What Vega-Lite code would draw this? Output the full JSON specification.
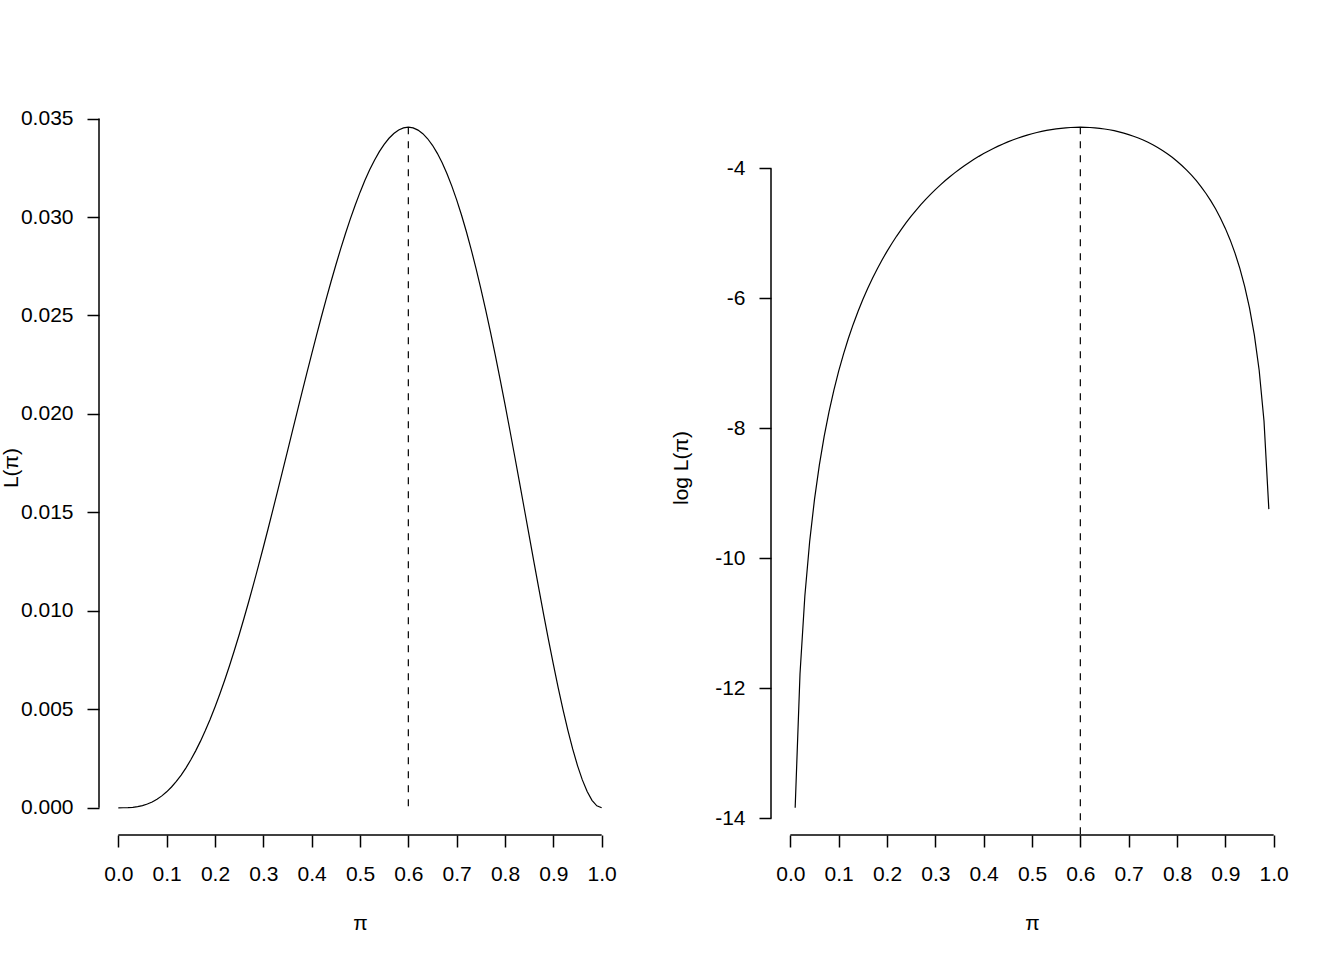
{
  "$schema": "https://vega.github.io/schema/vega-lite/v6.json",
  "background": "white",
  "padding": {"left": 0, "top": 100, "right": 0, "bottom": 0},
  "bounds": "flush",
  "spacing": 150,
  "config": {
    "view": {"stroke": null},
    "axis": {
      "grid": false, "domain": false,
      "labelFont": "Liberation Sans", "titleFont": "Liberation Sans",
      "labelFontSize": 21, "titleFontSize": 21, "titleFontWeight": "normal",
      "labelColor": "black", "titleColor": "black",
      "tickColor": "black", "tickSize": 12, "tickWidth": 1.5
    }
  },
  "datasets": {
    "lik": [
      {"p":0.00,"L":0},{"p":0.01,"L":0.00000098},{"p":0.02,"L":0.00000768},{"p":0.03,"L":0.0000254},{"p":0.04,"L":0.0000590},
      {"p":0.05,"L":0.000112813},{"p":0.06,"L":0.000190858},{"p":0.07,"L":0.000296661},{"p":0.08,"L":0.000433357},{"p":0.09,"L":0.000603685},
      {"p":0.10,"L":0.00081},{"p":0.11,"L":0.001054285},{"p":0.12,"L":0.001338163},{"p":0.13,"L":0.001662909},{"p":0.14,"L":0.002029462},
      {"p":0.15,"L":0.002438438},{"p":0.16,"L":0.002890138},{"p":0.17,"L":0.003384566},{"p":0.18,"L":0.003921437},{"p":0.19,"L":0.00450019},
      {"p":0.20,"L":0.00512},{"p":0.21,"L":0.00577979},{"p":0.22,"L":0.006478243},{"p":0.23,"L":0.007213814},{"p":0.24,"L":0.007984742},
      {"p":0.25,"L":0.008789063},{"p":0.26,"L":0.009624618},{"p":0.27,"L":0.0104891},{"p":0.28,"L":0.0113799},{"p":0.29,"L":0.0122945},
      {"p":0.30,"L":0.01323},{"p":0.31,"L":0.0141835},{"p":0.32,"L":0.0151519},{"p":0.33,"L":0.0161321},{"p":0.34,"L":0.0171208},
      {"p":0.35,"L":0.0181147},{"p":0.36,"L":0.0191103},{"p":0.37,"L":0.0201042},{"p":0.38,"L":0.0210928},{"p":0.39,"L":0.0220726},
      {"p":0.40,"L":0.02304},{"p":0.41,"L":0.0239914},{"p":0.42,"L":0.0249232},{"p":0.43,"L":0.0258318},{"p":0.44,"L":0.0267137},
      {"p":0.45,"L":0.0275653},{"p":0.46,"L":0.0283832},{"p":0.47,"L":0.0291639},{"p":0.48,"L":0.0299041},{"p":0.49,"L":0.0306005},
      {"p":0.50,"L":0.03125},{"p":0.51,"L":0.0318495},{"p":0.52,"L":0.0323961},{"p":0.53,"L":0.0328869},{"p":0.54,"L":0.0333194},
      {"p":0.55,"L":0.0336909},{"p":0.56,"L":0.0339993},{"p":0.57,"L":0.0342422},{"p":0.58,"L":0.0344178},{"p":0.59,"L":0.0345242},
      {"p":0.60,"L":0.03456},{"p":0.61,"L":0.0345238},{"p":0.62,"L":0.0344146},{"p":0.63,"L":0.0342314},{"p":0.64,"L":0.0339739},
      {"p":0.65,"L":0.0336416},{"p":0.66,"L":0.0332345},{"p":0.67,"L":0.0327531},{"p":0.68,"L":0.0321978},{"p":0.69,"L":0.0315697},
      {"p":0.70,"L":0.03087},{"p":0.71,"L":0.0301003},{"p":0.72,"L":0.0292626},{"p":0.73,"L":0.0283593},{"p":0.74,"L":0.0273931},
      {"p":0.75,"L":0.0263672},{"p":0.76,"L":0.025285},{"p":0.77,"L":0.0241506},{"p":0.78,"L":0.0229683},{"p":0.79,"L":0.021743},
      {"p":0.80,"L":0.02048},{"p":0.81,"L":0.019185},{"p":0.82,"L":0.0178643},{"p":0.83,"L":0.0165246},{"p":0.84,"L":0.0151732},
      {"p":0.85,"L":0.0138178},{"p":0.86,"L":0.0124667},{"p":0.87,"L":0.0111287},{"p":0.88,"L":0.0098132},{"p":0.89,"L":0.0085301},
      {"p":0.90,"L":0.00729},{"p":0.91,"L":0.0061039},{"p":0.92,"L":0.0049836},{"p":0.93,"L":0.0039414},{"p":0.94,"L":0.0029901},
      {"p":0.95,"L":0.0021434},{"p":0.96,"L":0.0014156},{"p":0.97,"L":0.0008214},{"p":0.98,"L":0.0003765},{"p":0.99,"L":0.000097},
      {"p":1.00,"L":0}
    ],
    "loglik": [
      {"p":0.01,"logL":-13.8356},{"p":0.02,"logL":-11.7765},{"p":0.03,"logL":-10.5806},{"p":0.04,"logL":-9.7383},
      {"p":0.05,"logL":-9.0898},{"p":0.06,"logL":-8.564},{"p":0.07,"logL":-8.1229},{"p":0.08,"logL":-7.744},{"p":0.09,"logL":-7.4125},
      {"p":0.10,"logL":-7.1185},{"p":0.11,"logL":-6.8549},{"p":0.12,"logL":-6.6164},{"p":0.13,"logL":-6.3992},{"p":0.14,"logL":-6.2},
      {"p":0.15,"logL":-6.0164},{"p":0.16,"logL":-5.8464},{"p":0.17,"logL":-5.6885},{"p":0.18,"logL":-5.5413},{"p":0.19,"logL":-5.4036},
      {"p":0.20,"logL":-5.2746},{"p":0.21,"logL":-5.1534},{"p":0.22,"logL":-5.0393},{"p":0.23,"logL":-4.9318},{"p":0.24,"logL":-4.8302},
      {"p":0.25,"logL":-4.7342},{"p":0.26,"logL":-4.6434},{"p":0.27,"logL":-4.5574},{"p":0.28,"logL":-4.4759},{"p":0.29,"logL":-4.3986},
      {"p":0.30,"logL":-4.3253},{"p":0.31,"logL":-4.2557},{"p":0.32,"logL":-4.1896},{"p":0.33,"logL":-4.1269},{"p":0.34,"logL":-4.0675},
      {"p":0.35,"logL":-4.011},{"p":0.36,"logL":-3.9575},{"p":0.37,"logL":-3.9068},{"p":0.38,"logL":-3.8588},{"p":0.39,"logL":-3.8134},
      {"p":0.40,"logL":-3.7705},{"p":0.41,"logL":-3.7301},{"p":0.42,"logL":-3.692},{"p":0.43,"logL":-3.6562},{"p":0.44,"logL":-3.6226},
      {"p":0.45,"logL":-3.5912},{"p":0.46,"logL":-3.562},{"p":0.47,"logL":-3.5348},{"p":0.48,"logL":-3.5098},{"p":0.49,"logL":-3.4868},
      {"p":0.50,"logL":-3.4658},{"p":0.51,"logL":-3.4467},{"p":0.52,"logL":-3.4297},{"p":0.53,"logL":-3.4147},{"p":0.54,"logL":-3.4016},
      {"p":0.55,"logL":-3.3905},{"p":0.56,"logL":-3.3814},{"p":0.57,"logL":-3.3743},{"p":0.58,"logL":-3.3692},{"p":0.59,"logL":-3.3661},
      {"p":0.60,"logL":-3.3651},{"p":0.61,"logL":-3.3661},{"p":0.62,"logL":-3.3692},{"p":0.63,"logL":-3.3745},{"p":0.64,"logL":-3.3819},
      {"p":0.65,"logL":-3.392},{"p":0.66,"logL":-3.4042},{"p":0.67,"logL":-3.4188},{"p":0.68,"logL":-3.4358},{"p":0.69,"logL":-3.4555},
      {"p":0.70,"logL":-3.478},{"p":0.71,"logL":-3.5032},{"p":0.72,"logL":-3.5314},{"p":0.73,"logL":-3.5628},{"p":0.74,"logL":-3.5975},
      {"p":0.75,"logL":-3.6356},{"p":0.76,"logL":-3.6776},{"p":0.77,"logL":-3.7234},{"p":0.78,"logL":-3.7736},{"p":0.79,"logL":-3.8286},
      {"p":0.80,"logL":-3.8883},{"p":0.81,"logL":-3.9536},{"p":0.82,"logL":-4.025},{"p":0.83,"logL":-4.1029},{"p":0.84,"logL":-4.1882},
      {"p":0.85,"logL":-4.2818},{"p":0.86,"logL":-4.3847},{"p":0.87,"logL":-4.4982},{"p":0.88,"logL":-4.624},{"p":0.89,"logL":-4.7641},
      {"p":0.90,"logL":-4.9213},{"p":0.91,"logL":-5.0988},{"p":0.92,"logL":-5.3016},{"p":0.93,"logL":-5.5362},{"p":0.94,"logL":-5.8125},
      {"p":0.95,"logL":-6.1453},{"p":0.96,"logL":-6.5602},{"p":0.97,"logL":-7.1045},{"p":0.98,"logL":-7.8846},{"p":0.99,"logL":-9.2405}
    ],
    "mle": [{"p": 0.6, "L": 0.03456, "logL": -3.3651}]
  },
  "hconcat": [
    {
      "width": 522,
      "height": 735,
      "layer": [
        {
          "data": {"name": "lik"},
          "mark": {"type": "line", "color": "black", "strokeWidth": 1.2},
          "encoding": {
            "x": {
              "field": "p", "type": "quantitative",
              "scale": {"domain": [-0.04, 1.04], "nice": false, "zero": false},
              "axis": {
                "title": "π", "values": [0,0.1,0.2,0.3,0.4,0.5,0.6,0.7,0.8,0.9,1],
                "format": ".1f", "labelPadding": 16,
                "titleY": 88, "titleBaseline": "middle"
              }
            },
            "y": {
              "field": "L", "type": "quantitative",
              "scale": {"domain": [-0.0013824, 0.0359424], "nice": false, "zero": false},
              "axis": {
                "title": "L(π)", "values": [0,0.005,0.01,0.015,0.02,0.025,0.03,0.035],
                "format": ".3f", "labelPadding": 14,
                "titleX": -82, "titleBaseline": "alphabetic", "titleAngle": 270
              }
            }
          }
        },
        {
          "data": {"name": "mle"},
          "mark": {"type": "rule", "color": "black", "strokeWidth": 1.2, "strokeDash": [7, 7]},
          "encoding": {
            "x": {"field": "p", "type": "quantitative"},
            "y": {"field": "L", "type": "quantitative"},
            "y2": {"datum": 0}
          }
        },
        {
          "data": {"name": "mle"},
          "mark": {"type": "rule", "color": "black", "strokeWidth": 1.5},
          "encoding": {
            "x": {"datum": 0, "type": "quantitative"},
            "x2": {"datum": 1},
            "y": {"datum": -0.0013824, "type": "quantitative"}
          }
        },
        {
          "data": {"name": "mle"},
          "mark": {"type": "rule", "color": "black", "strokeWidth": 1.5},
          "encoding": {
            "x": {"datum": -0.04, "type": "quantitative"},
            "y": {"datum": 0, "type": "quantitative"},
            "y2": {"datum": 0.035}
          }
        }
      ]
    },
    {
      "width": 522,
      "height": 735,
      "layer": [
        {
          "data": {"name": "loglik"},
          "mark": {"type": "line", "color": "black", "strokeWidth": 1.2},
          "encoding": {
            "x": {
              "field": "p", "type": "quantitative",
              "scale": {"domain": [-0.04, 1.04], "nice": false, "zero": false},
              "axis": {
                "title": "π", "values": [0,0.1,0.2,0.3,0.4,0.5,0.6,0.7,0.8,0.9,1],
                "format": ".1f", "labelPadding": 16,
                "titleY": 88, "titleBaseline": "middle"
              }
            },
            "y": {
              "field": "logL", "type": "quantitative",
              "scale": {"domain": [-14.2544, -2.9463], "nice": false, "zero": false},
              "axis": {
                "title": "log L(π)", "values": [-14,-12,-10,-8,-6,-4],
                "labelExpr": "'' + datum.value", "labelPadding": 14,
                "titleX": -84, "titleBaseline": "alphabetic", "titleAngle": 270
              }
            }
          }
        },
        {
          "data": {"name": "mle"},
          "mark": {"type": "rule", "color": "black", "strokeWidth": 1.2, "strokeDash": [7, 7]},
          "encoding": {
            "x": {"field": "p", "type": "quantitative"},
            "y": {"field": "logL", "type": "quantitative"},
            "y2": {"datum": -14.2544}
          }
        },
        {
          "data": {"name": "mle"},
          "mark": {"type": "rule", "color": "black", "strokeWidth": 1.5},
          "encoding": {
            "x": {"datum": 0, "type": "quantitative"},
            "x2": {"datum": 1},
            "y": {"datum": -14.2544, "type": "quantitative"}
          }
        },
        {
          "data": {"name": "mle"},
          "mark": {"type": "rule", "color": "black", "strokeWidth": 1.5},
          "encoding": {
            "x": {"datum": -0.04, "type": "quantitative"},
            "y": {"datum": -14, "type": "quantitative"},
            "y2": {"datum": -4}
          }
        }
      ]
    }
  ]
}
